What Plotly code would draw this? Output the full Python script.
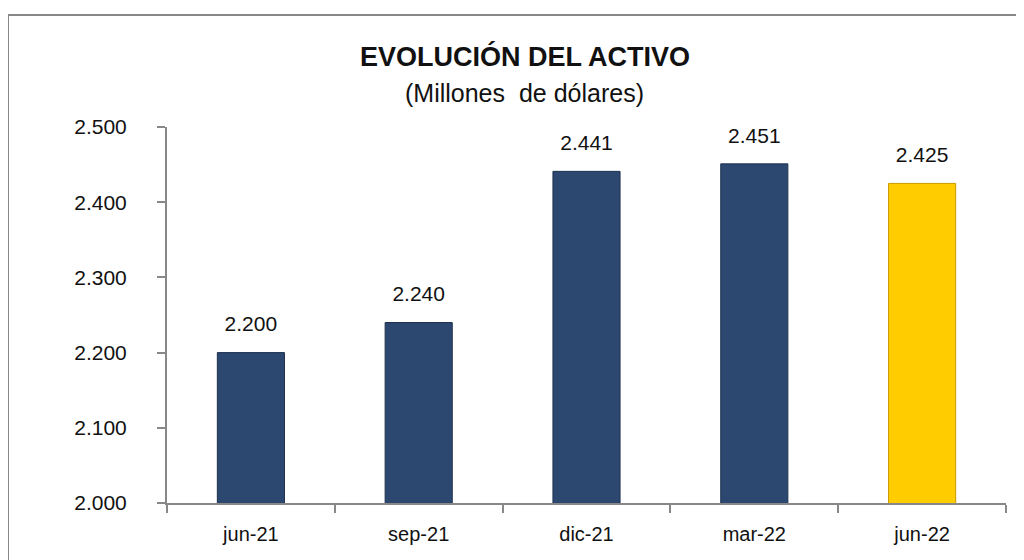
import plotly.graph_objects as go

categories = ["jun-21", "sep-21", "dic-21", "mar-22", "jun-22"]
values = [2200, 2240, 2441, 2451, 2425]
bar_colors = ["#2C4770", "#2C4770", "#2C4770", "#2C4770", "#FFCC00"]
line_colors = ["#1E3250", "#1E3250", "#1E3250", "#1E3250", "#C99A00"]
y_ticks = [2000, 2100, 2200, 2300, 2400, 2500]

FONT = "Liberation Sans, Arial, sans-serif"

# page body has an 8px margin; work in screen coords and shift
OFF = 8
W, H = 1024 - OFF, 560 - OFF
L, R, T, B = 167 - OFF, 1024 - 1006, 127 - OFF, 560 - 503
pw, ph = W - L - R, H - T - B

def px(x):
    return (x - OFF - L) / pw

def py(y):
    return (H - B - (y - OFF)) / ph

fig = go.Figure()
fig.add_trace(go.Bar(
    x=categories, y=values,
    marker=dict(color=bar_colors, line=dict(color=line_colors, width=1)),
    width=0.4, hoverinfo="x+y",
))
fig.add_trace(go.Scatter(
    x=categories, y=values, mode="markers+text",
    marker=dict(size=24, opacity=0),
    text=values, texttemplate="%{y:,.0f}", textposition="top center",
    textfont=dict(size=21, color="#111111", family=FONT),
    cliponaxis=False, hoverinfo="skip",
))

fig.update_layout(
    width=W, height=H,
    margin=dict(l=L, r=R, t=T, b=B),
    paper_bgcolor="white", plot_bgcolor="white",
    separators=",.",
    showlegend=False,
    font=dict(family=FONT, color="#111111"),
    xaxis=dict(
        type="category", tickson="boundaries", ticks="outside", ticklen=8,
        tickcolor="#888888", tickwidth=2, showline=True, linecolor="#888888",
        linewidth=2, showgrid=False, tickfont=dict(size=20, family=FONT),
        ticklabelstandoff=12,
    ),
    yaxis=dict(
        range=[2000, 2500], tickvals=y_ticks, tickformat=",d", ticks="outside",
        ticklen=8, tickcolor="#888888", tickwidth=2, showline=True,
        linecolor="#888888", linewidth=2, showgrid=False, zeroline=False,
        tickfont=dict(size=21, family=FONT), ticklabelstandoff=26,
    ),
    shapes=[dict(
        type="rect", xref="paper", yref="paper",
        x0=px(8), x1=px(1040), y0=py(580), y1=py(15),
        line=dict(color="#888888", width=2), fillcolor="rgba(0,0,0,0)", layer="below",
    )],
    annotations=[
        dict(text="<b>EVOLUCIÓN DEL ACTIVO</b>", xref="paper", yref="paper",
             x=px(525), y=py(56), showarrow=False, xanchor="center", yanchor="middle",
             font=dict(size=27, family=FONT, color="#111111")),
        dict(text="(Millones  de dólares)", xref="paper", yref="paper",
             x=px(524), y=py(93), showarrow=False, xanchor="center", yanchor="middle",
             font=dict(size=25, family=FONT, color="#111111")),
    ],
)

fig.write_html("out.html")
